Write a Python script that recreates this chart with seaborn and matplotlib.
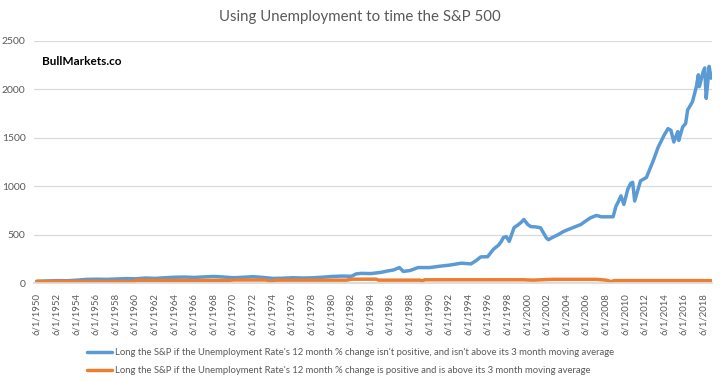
import matplotlib
matplotlib.use("Agg")
import matplotlib.pyplot as plt
import seaborn as sns
import pandas as pd
from matplotlib.lines import Line2D

blue_label = "Long the S&P if the Unemployment Rate's 12 month % change isn't positive, and isn't above its 3 month moving average"
orange_label = "Long the S&P if the Unemployment Rate's 12 month % change is positive and is above its 3 month moving average"

blue_years = [1950.4, 1951.5, 1952.5, 1953.5, 1954.5, 1955.5, 1956.5, 1957.5, 1958.5, 1959.5,
              1960.5, 1961.5, 1962.5, 1963.5, 1964.5, 1965.5, 1966.5, 1967.5, 1968.5, 1969.5,
              1970.5, 1971.5, 1972.5, 1973.5, 1974.5, 1975.5, 1976.5, 1977.5, 1978.5, 1979.5,
              1980.5, 1981.5, 1982.5, 1983.0, 1983.5, 1984.5, 1985.5, 1986.2, 1986.8, 1987.4,
              1987.8, 1988.5, 1989.3, 1990.5, 1991.6, 1992.5, 1993.7, 1994.7, 1995.2, 1995.7,
              1996.4, 1997.0, 1997.5, 1997.8, 1998.0, 1998.3, 1998.6, 1999.1, 1999.5, 1999.8,
              2000.1, 2000.5, 2000.8, 2001.3, 2001.8, 2002.4, 2002.6, 2003.0, 2003.6, 2004.1,
              2004.6, 2005.3, 2005.9, 2006.4, 2006.9, 2007.5, 2008.0, 2009.2, 2009.5, 2009.7,
              2010.0, 2010.3, 2010.7, 2011.0, 2011.2, 2011.4, 2012.0, 2012.6, 2013.3, 2013.8,
              2014.4, 2014.8, 2015.1, 2015.4, 2015.8, 2015.9, 2016.3, 2016.6, 2016.8, 2017.3,
              2017.7, 2017.9, 2018.0, 2018.4, 2018.55, 2018.7, 2018.9, 2019.0, 2019.2]
blue_values = [18, 22, 25, 24, 30, 38, 40, 38, 42, 46,
               44, 52, 48, 55, 60, 62, 58, 64, 68, 62,
               55, 60, 66, 58, 48, 50, 55, 52, 54, 60,
               68, 72, 70, 95, 100, 98, 110, 125, 135, 160,
               120, 130, 160, 160, 175, 185, 205, 198, 230, 270,
               272, 350, 390, 430, 469, 480, 430, 573, 600, 625,
               656, 604, 583, 580, 570, 465, 448, 470, 500, 530,
               552, 580, 604, 640, 674, 698, 684, 684, 795, 833,
               900, 812, 969, 1030, 1040, 847, 1055, 1090, 1264, 1403,
               1525, 1594, 1577, 1456, 1563, 1472, 1612, 1646, 1785, 1872,
               2028, 2150, 2028, 2185, 2220, 1907, 2115, 2237, 2115]

orange_years = [1950.4, 1960.3, 1960.5, 1970.0, 1970.5, 1973.8, 1974.3, 1974.8, 1982.0, 1982.5,
                1985.0, 1985.3, 1989.5, 1989.7, 1990.0, 2000.0, 2001.0, 2003.0, 2007.5, 2008.5,
                2009.0, 2009.3, 2019.2]
orange_values = [17, 17, 28, 28, 32, 32, 18, 30, 30, 40,
                 40, 30, 30, 22, 34, 34, 30, 38, 38, 30,
                 15, 25, 25]

tick_years = list(range(1950, 2019, 2))
tick_labels = [f"6/1/{y}" for y in tick_years]
y_ticks = [0, 500, 1000, 1500, 2000, 2500]

sns.set_theme(style="white")
plt.rcParams['font.family'] = ['Lato', 'DejaVu Sans']

df = pd.concat([
    pd.DataFrame({"year": blue_years, "value": blue_values, "series": blue_label}),
    pd.DataFrame({"year": orange_years, "value": orange_values, "series": orange_label}),
])

fig = plt.figure(figsize=(7.2, 3.82), dpi=100)
ax = fig.add_axes([0.047, 0.259, 0.942, 0.634])

sns.lineplot(data=df, x="year", y="value", hue="series",
             palette={blue_label: "#5b9bd5", orange_label: "#ed7d31"},
             linewidth=2.5, ax=ax, legend=False, estimator=None, sort=False)

ax.set_xlim(1950.1, 2019.3)
ax.set_ylim(0, 2500)
ax.set_yticks(y_ticks)
ax.set_yticklabels([str(v) for v in y_ticks], color="#595959", fontsize=7.5)
ax.set_xticks([y + 0.42 for y in tick_years])
ax.set_xticklabels(tick_labels, rotation=90, color="#595959", fontsize=6.9)
ax.tick_params(axis="x", length=4, color="#d9d9d9", pad=3)
ax.tick_params(axis="y", length=0, pad=6)
ax.grid(axis="y", color="#d9d9d9", linewidth=0.9)
ax.set_axisbelow(True)
for s in ["top", "right", "left"]:
    ax.spines[s].set_visible(False)
ax.spines["bottom"].set_color("#d9d9d9")
ax.set_xlabel("")
ax.set_ylabel("")

fig.text(0.5, 0.955, "Using Unemployment to time the S&P 500", ha="center", va="center",
         fontsize=10.8, color="#595959")
fig.text(0.058, 0.838, "BullMarkets.co", ha="left", va="center", fontsize=8.5,
         fontweight="bold", color="black")

handles = [Line2D([], [], color="#5b9bd5", linewidth=2.5),
           Line2D([], [], color="#ed7d31", linewidth=2.5)]
fig.legend(handles, [blue_label, orange_label], loc="lower center",
           bbox_to_anchor=(0.487, -0.005), frameon=False, fontsize=6.8,
           labelcolor="#595959", handlelength=2.6, handletextpad=0.3, labelspacing=0.95)

fig.savefig("out.png", dpi=100)
